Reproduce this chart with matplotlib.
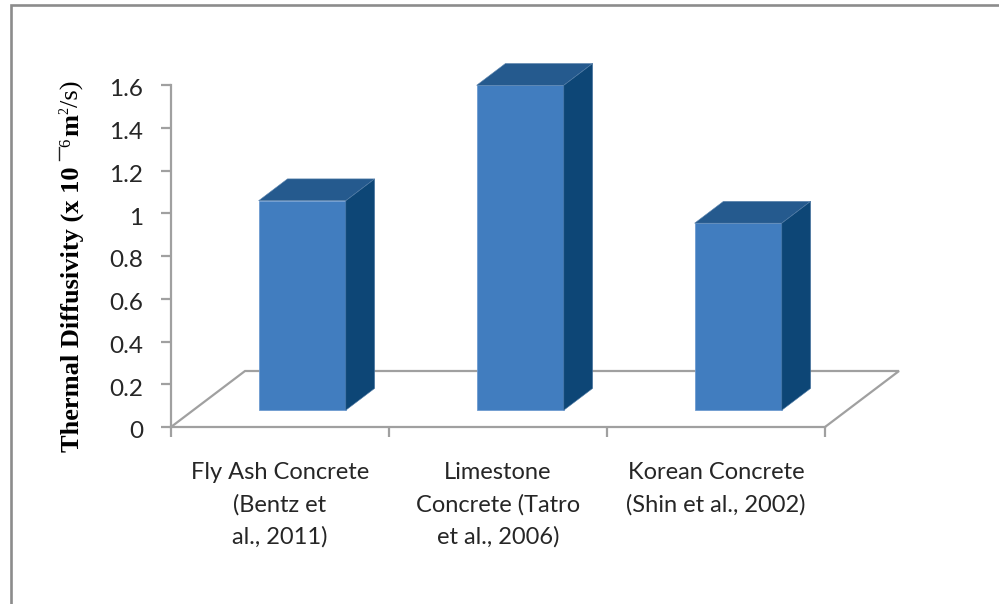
#!/usr/bin/env python3
import matplotlib
matplotlib.use('Agg')
import matplotlib.pyplot as plt
from matplotlib.lines import Line2D
from matplotlib.transforms import ScaledTranslation

categories = ['Fly Ash Concrete\n(Bentz et\nal., 2011)',
              'Limestone\nConcrete (Tatro\net al., 2006)',
              'Korean Concrete\n(Shin et al., 2002)']
values = [0.98, 1.52, 0.875]
yticks = [0, 0.2, 0.4, 0.6, 0.8, 1, 1.2, 1.4, 1.6]
yticklabels = ['0', '0.2', '0.4', '0.6', '0.8', '1', '1.2', '1.4', '1.6']

W, H = 999, 604
GREY = '#a0a0a0'
FRONT = '#417dbf'
TOP = '#255a8e'
SIDE = '#0d4676'

# fake 3d depth of the floor, in data units
depthX = 74 / 218
depthY = 56 / 213.75
barWidth = 0.40
barStart = 0.30   # how far back the front of the bar stands
barDepth = 0.39

fig = plt.figure(figsize=(W / 100, H / 100), dpi=100, facecolor='white')
ax = fig.add_axes([171 / W, 1 - 427 / H, 654 / W, 342 / H])
ax.set_xlim(0, 3)
ax.set_ylim(0, 1.6)
ax.patch.set_visible(False)
for side in ['top', 'right']:
    ax.spines[side].set_visible(False)
for side in ['left', 'bottom']:
    ax.spines[side].set_color(GREY)
    ax.spines[side].set_linewidth(1.6)

# floor
ax.plot([0, depthX, 3 + depthX, 3], [0, depthY, depthY, 0], color=GREY, lw=1.6,
        clip_on=False, zorder=1, solid_joinstyle='miter')

for i, val in enumerate(values):
    x0 = i + 0.5 - barWidth / 2 + barStart * depthX
    x1 = x0 + barWidth
    y0 = barStart * depthY
    y1 = y0 + val
    dx = barDepth * depthX
    dy = barDepth * depthY
    ax.fill([x0, x1, x1, x0], [y0, y0, y1, y1], color=FRONT, ec='#6d9bd0', lw=0.6,
            clip_on=False, zorder=3)
    ax.fill([x0, x1, x1 + dx, x0 + dx], [y1, y1, y1 + dy, y1 + dy], color=TOP, ec='#5f87b0', lw=0.4,
            clip_on=False, zorder=3)
    ax.fill([x1, x1 + dx, x1 + dx, x1], [y0, y0 + dy, y1 + dy, y1], color=SIDE, ec='#4f7aa5', lw=0.4,
            clip_on=False, zorder=3)

ax.set_yticks(yticks)
ax.set_yticklabels(yticklabels, family='Lato', fontsize=17.5, color='#262626')
ax.set_xticks([0, 1, 2, 3])
ax.set_xticklabels([])
ax.tick_params(axis='both', color=GREY, width=1.6, length=7, direction='out')
ax.tick_params(axis='y', pad=13)
for lab in ax.get_yticklabels():
    lab.set_transform(lab.get_transform() + ScaledTranslation(0, -2 / 72, fig.dpi_scale_trans))

for i, label in enumerate(categories):
    ax.text(i + 0.5, -0.102, label, transform=ax.get_xaxis_transform(), ha='center', va='top',
            family='Lato', fontsize=17, color='#262626', linespacing=1.62)

# y label is made of pieces because of the odd superscript
def labelPiece(x, y, txt, size=19, weight='bold'):
    fig.text(x / W, 1 - y / H, txt, rotation=90, ha='center', va='bottom', family='Liberation Serif',
             fontsize=size, fontweight=weight, color='black')

labelPiece(72, 452, 'Thermal Diffusivity (x 10')
labelPiece(66, 147, '6', size=12, weight='normal')
labelPiece(72, 136, 'm')
labelPiece(65, 114, '2', size=10, weight='normal')
labelPiece(72, 107, '/s)', weight='normal')
fig.add_artist(Line2D([59 / W, 59 / W], [1 - 160 / H, 1 - 147 / H], color='#222222', lw=1.0))

# frame of the screenshot
fig.add_artist(Line2D([11 / W, 11 / W, 1], [0, 1 - 4.5 / H, 1 - 4.5 / H], color='#8c8c8c', lw=1.9,
                      solid_joinstyle='miter'))

fig.savefig('out.png', dpi=100)
